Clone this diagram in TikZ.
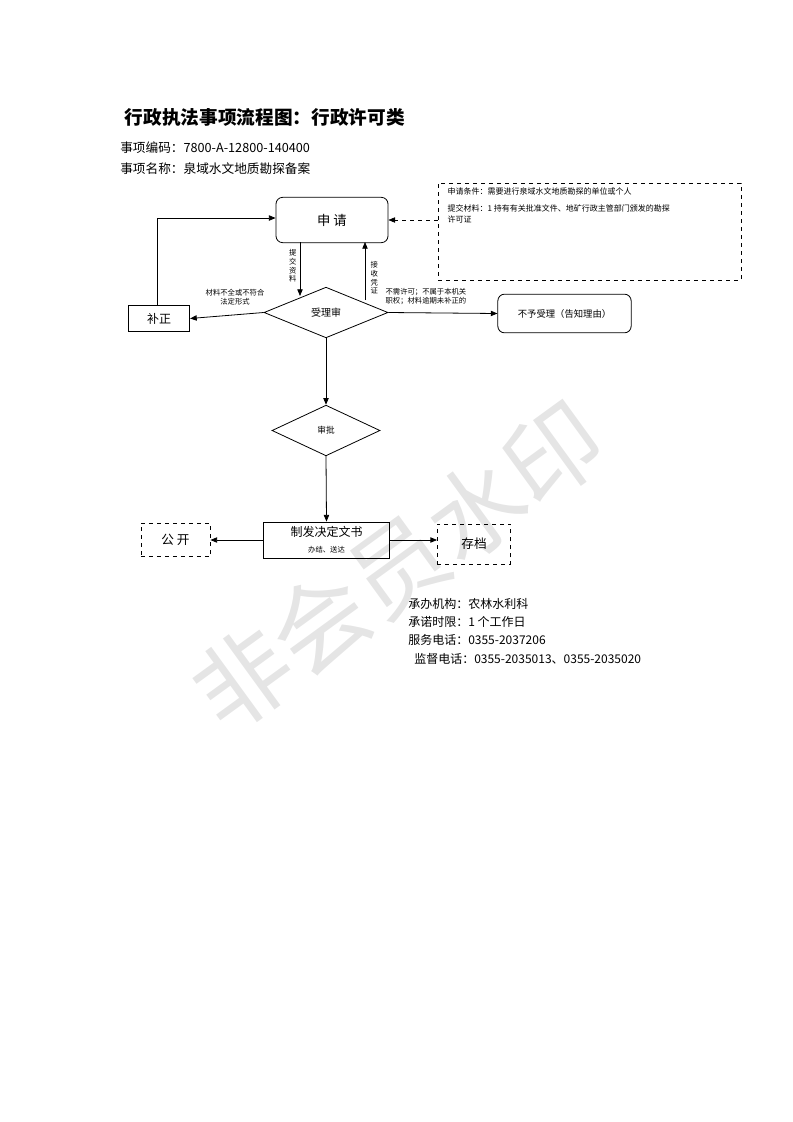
\documentclass[tikz,border=0pt]{standalone}
\usepackage{fontspec}
\setmainfont{Liberation Sans}
\newfontfamily\cjk{Noto Sans CJK SC}
\usetikzlibrary{shapes.geometric,arrows.meta}
\begin{document}
\begin{tikzpicture}[x=0.75pt,y=-0.75pt,font=\cjk,
  arr/.style={-{Triangle[length=5pt,width=4pt]},semithick},
  dia/.style={draw,semithick,diamond,aspect=2.4,inner sep=0pt},
  lbl/.style={font=\cjk\fontsize{5.5}{6.5}\selectfont,inner sep=1pt}]
\useasboundingbox (0,0) rectangle (793,1122);
\node[text=black!10,rotate=36,font=\cjk\fontsize{72}{80}\selectfont] (wm) at (398,566) {非会员水印};
\node[anchor=west,font=\cjk\bfseries\fontsize{14}{16}\selectfont] (t) at (120,117) {行政执法事项流程图：行政许可类};
\node[anchor=west,font=\cjk\fontsize{9.5}{11}\selectfont,inner sep=0pt] (c1) at (120,148) {事项编码：7800-A-12800-140400};
\node[anchor=west,font=\cjk\fontsize{9.5}{11}\selectfont,inner sep=0pt] (c2) at (120,169) {事项名称：泉域水文地质勘探备案};

\node[draw,semithick,rounded corners=5pt,minimum width=84pt,minimum height=34pt,font=\cjk\fontsize{10}{12}\selectfont] (sq) at (332,220) {申\ 请};
\node[draw,dashed,minimum width=227pt,minimum height=73pt,inner sep=0pt] (cond) at (589.5,231.5) {};
\node[anchor=north west,lbl,align=left,font=\cjk\fontsize{6}{8}\selectfont] (condt) at (446,186) {申请条件：需要进行泉域水文地质勘探的单位或个人\\[5pt]提交材料：1 持有有关批准文件、地矿行政主管部门颁发的勘探\\许可证};
\node[dia,minimum width=93pt,minimum height=38pt,font=\cjk\fontsize{7.5}{9}\selectfont] (sl) at (326,312.5) {受理审};
\node[draw,semithick,minimum width=46pt,minimum height=20pt,font=\cjk\fontsize{9}{11}\selectfont] (bz) at (159,318.5) {补正};
\node[draw,semithick,rounded corners=5pt,minimum width=100pt,minimum height=29pt,font=\cjk\fontsize{7}{9}\selectfont] (byl) at (564.5,313.5) {不予受理（告知理由）};
\node[dia,minimum width=81pt,minimum height=38pt,font=\cjk\fontsize{6.5}{8}\selectfont] (sp) at (326,430.5) {审批};
\node[draw,semithick,minimum width=95pt,minimum height=27pt,align=center,inner sep=0pt] (zf) at (326.5,540) {{\fontsize{9}{10}\selectfont 制发决定文书}\\{\fontsize{5.5}{6}\selectfont 办结、送达}};
\node[draw,dashed,minimum width=52pt,minimum height=25pt,font=\cjk\fontsize{9.5}{11}\selectfont] (gk) at (175.5,540) {公\ 开};
\node[draw,dashed,minimum width=55pt,minimum height=30pt,font=\cjk\fontsize{9.5}{11}\selectfont] (cd) at (474,544) {存档};

\draw[arr,dashed,thin] (cond.west|-sq) -- (sq.east);
\coordinate (a1) at (300,242);
\coordinate (a2) at (300,296);
\draw[arr] (a1) -- (a2);
\node[lbl,align=center,anchor=east] (l1) at (298,266) {提\\交\\资\\料};
\coordinate (b1) at (365,300);
\coordinate (b2) at (365,242);
\draw[arr] (b1) -- (b2);
\node[lbl,align=center,anchor=west] (l2) at (369,278) {接\\收\\凭\\证};
\draw[arr] (sl.west) -- (bz.east);
\node[lbl,align=center] (l3) at (235,297) {材料不全或不符合\\法定形式};
\coordinate (k) at (157,218);
\draw[arr] (bz.north-|k) -- (k) -- (sq.west|-k);
\draw[arr] (sl.east) -- (byl.west);
\node[lbl,align=left,anchor=south west] (l4) at (384,306) {不需许可；不属于本机关\\职权；材料逾期未补正的};
\draw[arr] (sl.south) -- (sp.north);
\draw[arr] (sp.south) -- (zf.north);
\draw[arr] (zf.west) -- (gk.east);
\draw[arr] (zf.east) -- (cd.west|-zf);

\begin{scope}[every node/.style={anchor=west,inner sep=0pt,font=\cjk\fontsize{9}{11}\selectfont}]
\node (f1) at (408,604) {承办机构：农林水利科};
\node (f2) at (408,622) {承诺时限：1 个工作日};
\node (f3) at (408,640) {服务电话：0355-2037206};
\node (f4) at (414,659) {监督电话：0355-2035013、0355-2035020};
\end{scope}
\end{tikzpicture}
\end{document}
